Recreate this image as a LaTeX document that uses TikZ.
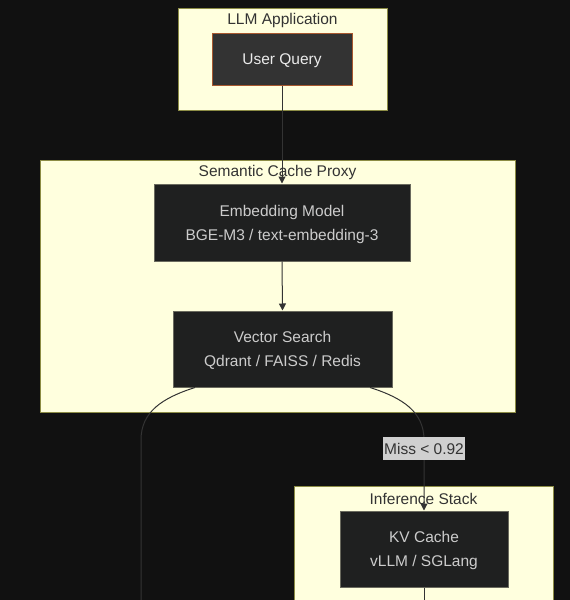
\documentclass[tikz,border=0pt]{standalone}
\usepackage{fontspec}
\setmainfont{Liberation Sans}
\usepackage{xcolor}
\usetikzlibrary{arrows.meta}

\definecolor{bgdark}{HTML}{111111}
\definecolor{clusterfill}{HTML}{FFFFDE}
\definecolor{clusterline}{HTML}{8C8C45}
\definecolor{nodefill}{HTML}{1F2020}
\definecolor{nodeline}{HTML}{6A6A5E}
\definecolor{queryfill}{HTML}{333333}
\definecolor{queryline}{HTML}{A8582F}
\definecolor{edgegrey}{HTML}{333333}
\definecolor{labelfill}{HTML}{D0D0D0}
\definecolor{nodetext}{HTML}{CCCCCC}

\begin{document}
\begin{tikzpicture}[x=1pt, y=-1pt, every node/.style={font=\fontsize{15.5}{24}\selectfont}]
    \tikzset{
        cluster/.style={draw=clusterline, fill=clusterfill, line width=1pt, inner sep=0pt},
        clustertitle/.style={text=edgegrey, inner sep=0pt},
        service/.style={draw=nodeline, fill=nodefill, text=nodetext, line width=1pt, align=center, text depth=0pt},
        query/.style={draw=queryline, fill=queryfill, text=white!92!black, line width=1pt, text depth=0pt},
        flow/.style={draw=edgegrey, line width=1pt, -{Triangle[length=7pt, width=7pt]}},
        plainflow/.style={draw=edgegrey, line width=1pt},
        misslabel/.style={fill=labelfill, text=edgegrey, inner xsep=1pt, minimum height=23pt}
    }

    % Hintergrund
    \fill[bgdark] (0,0) rectangle (570,600);
    \clip (0,0) rectangle (570,600);

    % --- Gruppen ---
    \node[cluster, minimum width=209pt, minimum height=102pt] (app) at (282.5,59) {};
    \node[clustertitle] (apptitle) at (282.5,20.5) {LLM Application};

    \node[cluster, minimum width=475pt, minimum height=252pt] (proxy) at (277.5,286) {};
    \node[clustertitle] (proxytitle) at (277.5,172.5) {Semantic Cache Proxy};

    \node[cluster, minimum width=259pt, minimum height=160pt] (stack) at (423.5,566) {};
    \node[clustertitle] (stacktitle) at (423.5,498.5) {Inference Stack};

    % --- Knoten ---
    \node[query, minimum width=140pt, minimum height=52pt] (uq) at (282,59) {User Query};
    \node[service, minimum width=256pt, minimum height=77pt] (emb) at (282,222.5)
        {Embedding Model\\BGE-M3 / text-embedding-3};
    \node[service, minimum width=219pt, minimum height=76pt] (vs) at (282.5,349)
        {Vector Search\\Qdrant / FAISS / Redis};
    \node[service, minimum width=168pt, minimum height=76pt] (kv) at (424,549)
        {KV Cache\\vLLM / SGLang};

    % --- Verbindungen ---
    \draw[flow] (uq.south) -- (emb.north);
    \draw[flow] (emb.south) -- (vs.north);

    % Treffer-Zweig nach links unten (aus dem Bild heraus)
    \coordinate (hitend) at (141,600);
    \draw[plainflow] ([xshift=-87.5pt]vs.south) .. controls (162,398) and (141,412) .. (141,440) -- (hitend);

    % Miss-Zweig zum Inference Stack
    \draw[flow] ([xshift=87.5pt]vs.south) .. controls (403,398) and (424,412) .. (424,440) -- (kv.north);
    \node[misslabel] (miss) at (424,448.5) {Miss < 0.92};

    % weiter nach unten
    \coordinate (kvend) at (424,600);
    \draw[plainflow] (kv.south) -- (kvend);
\end{tikzpicture}
\end{document}
